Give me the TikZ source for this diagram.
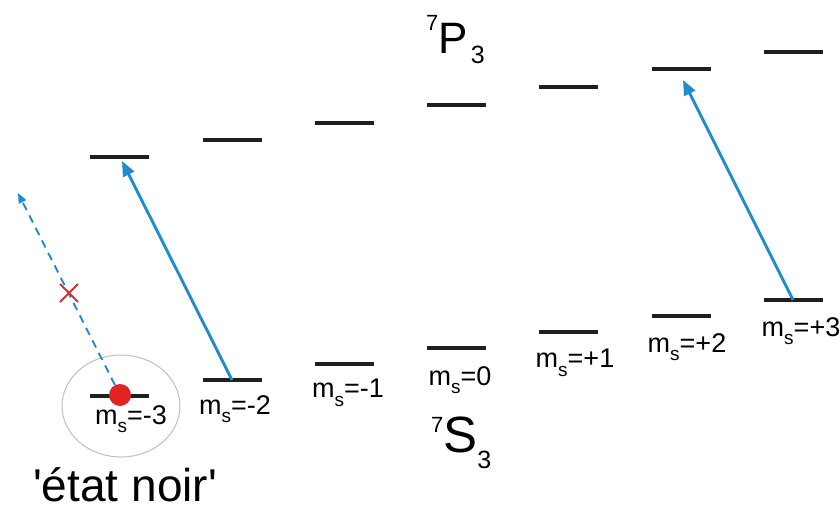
\documentclass[tikz,border=0pt]{standalone}
\usepackage{fontspec}
\setmainfont{Liberation Sans}
\usetikzlibrary{arrows.meta,calc,shapes.geometric}
\definecolor{laser}{RGB}{30,140,205}
\definecolor{dotred}{RGB}{225,35,35}
\definecolor{xred}{RGB}{210,50,50}
\newcommand\mslab[1]{m\raisebox{-0.32em}{\fontsize{19}{19}\selectfont s}=#1}
\tikzset{
  level/.style={line width=3.2pt, black!88},
  mlabel/.style={font=\fontsize{27}{27}\selectfont, inner sep=0pt},
  pump/.style={line width=2.9pt, laser, -{Triangle[length=15pt,width=12pt]}},
  forbidden/.style={line width=1.9pt, laser, dash pattern=on 8pt off 6pt, -{Triangle[length=10pt,width=8pt]}},
}
\begin{document}
\begin{tikzpicture}[x=1pt,y=-1pt]
\useasboundingbox (0,0) rectangle (840,511);
% level centres: ground (g) and excited (e)
\foreach \n/\x/\yg/\ye in {m3/119.5/396/157, m2/232/380/140, m1/344.5/364/123, z/456.5/348/105, p1/568.5/332/87, p2/681/316/69, p3/793/300/52}{
  \coordinate (g\n) at (\x,\yg);
  \coordinate (e\n) at (\x,\ye);
  \draw[level] (g\n) ++(-29.5,0) -- ++(59,0);
  \draw[level] (e\n) ++(-29.5,0) -- ++(59,0);
}
% dark state circle
\node (halo) [draw=black!25, line width=1pt, ellipse, minimum width=118pt, minimum height=102pt, inner sep=0pt] at (121,406) {};
\node (dot) [circle, fill=dotred, minimum size=22pt, inner sep=0pt] at (120,395) {};
% labels
\node[mlabel] (lm3) at (131,419) {\mslab{-3}};
\node[mlabel] (lm2) at (235,409) {\mslab{-2}};
\node[mlabel] (lm1) at (348,393) {\mslab{-1}};
\node[mlabel] (lz)  at (460,380) {\mslab{0}};
\node[mlabel] (lp1) at (575,363) {\mslab{+1}};
\node[mlabel] (lp2) at (687,347) {\mslab{+2}};
\node[mlabel] (lp3) at (801,331) {\mslab{+3}};
% term symbols
\node[anchor=base west, inner sep=0pt] (P) at (426,53) {\raisebox{23pt}{\fontsize{22}{22}\selectfont 7}\fontsize{44}{44}\selectfont P\hspace{3pt}\raisebox{-10pt}{\fontsize{25}{25}\selectfont 3}};
\node[anchor=base west, inner sep=0pt] (S) at (431,452) {\raisebox{20pt}{\fontsize{22}{22}\selectfont 7}\fontsize{51}{51}\selectfont S\raisebox{-16pt}{\fontsize{25}{25}\selectfont 3}};
\node[anchor=base west, inner sep=0pt] (noir) at (33,501) {\fontsize{46}{46}\selectfont \textquotesingle état noir\textquotesingle};
% transitions
\coordinate (tipA) at (122,161);
\coordinate (tipB) at (683,80);
\coordinate (tipC) at (18,193);
\draw[pump] (gm2) -- (tipA);
\draw[pump] (gp3) -- (tipB);
\draw[forbidden] (dot) -- (tipC);
% cross
\coordinate (cx) at (69,293);
\draw[xred, line width=1.8pt] ($(cx)+(-9,-9)$) -- ($(cx)+(9,9)$) ($(cx)+(-9,9)$) -- ($(cx)+(9,-9)$);
\end{tikzpicture}
\end{document}
